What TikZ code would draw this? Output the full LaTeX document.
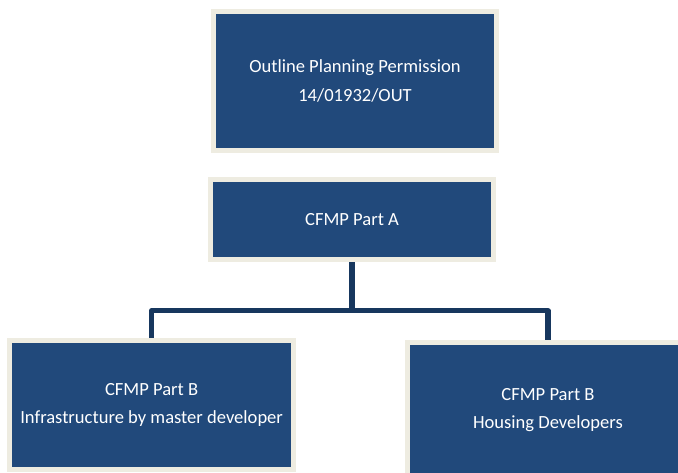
\documentclass[tikz,border=0pt]{standalone}
\usepackage{fontspec}
\setmainfont{Carlito}
\usepackage{tikz}
\usetikzlibrary{positioning,calc}
\definecolor{boxblue}{RGB}{33,73,123}
\definecolor{frame}{RGB}{238,236,225}
\definecolor{linkblue}{RGB}{23,55,94}

\begin{document}
\begin{tikzpicture}[
    plan/.style={rectangle, draw=frame, fill=boxblue, line width=3.5pt,
                 text=white, align=center, font=\fontsize{13.2}{20}\selectfont},
    link/.style={draw=linkblue, line width=3.6pt, line join=round}
]
    % page area, the lower boxes run off the edge
    \useasboundingbox (0,0) rectangle (16.95,-11.8);
    \clip (0,0) rectangle (16.95,-11.8);

    % Permission and Part A
    \node[plan, minimum width=7.075cm, minimum height=3.475cm] (opp) at (8.875,-2.025)
        {Outline Planning Permission\\14/01932/OUT};
    \node[plan, minimum width=7.075cm, minimum height=2cm] (partA) at (8.8,-5.49)
        {CFMP Part A};

    % Part B boxes
    \node[plan, minimum width=7.1cm, minimum height=3.225cm] (infra) at (3.79,-10.125)
        {CFMP Part B\\Infrastructure by master developer};
    \node[plan, minimum width=7.025cm, minimum height=3.375cm] (housing) at (13.7,-10.25)
        {CFMP Part B\\Housing Developers};

    % Tree lines
    \coordinate (fork) at (8.8,-7.77);
    \draw[link] (partA.south) -- (fork);
    \draw[link] (fork) -| (infra.north);
    \draw[link] (fork) -| (housing.north);
\end{tikzpicture}
\end{document}
